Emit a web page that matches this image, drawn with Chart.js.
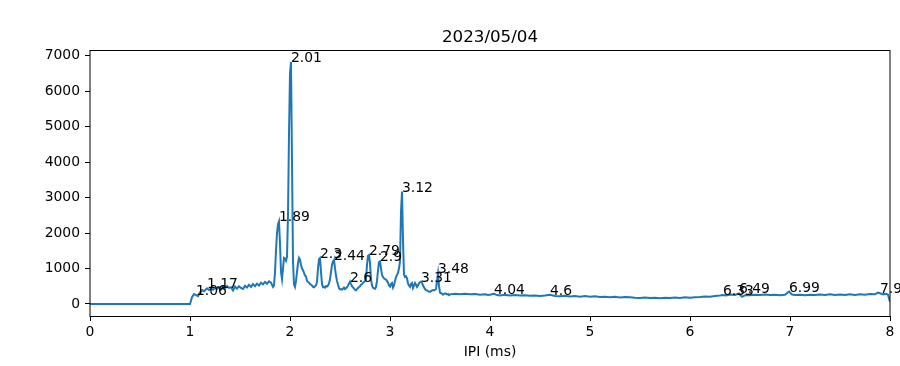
<!DOCTYPE html>
<html>
<head>
<meta charset="utf-8">
<script src="https://cdn.jsdelivr.net/npm/chart.js@4"></script>
<style>
  body { margin: 0; background: #fff; }
</style>
</head>
<body>
<canvas id="ipiChart" width="900" height="366"></canvas>
<script>
const chartTitle = "2023/05/04";
const xAxisLabel = "IPI (ms)";

// histogram bins (ms)
const ipiMs = [
  0, 1.00, 1.02, 1.04, 1.06, 1.08, 1.10, 1.12, 1.14, 1.17,
  1.19, 1.21, 1.23, 1.25, 1.27, 1.29, 1.31, 1.33, 1.35, 1.37,
  1.39, 1.41, 1.43, 1.45, 1.47, 1.49, 1.51, 1.53, 1.55, 1.57,
  1.59, 1.61, 1.63, 1.65, 1.67, 1.69, 1.71, 1.73, 1.75, 1.77,
  1.79, 1.81, 1.83,
  1.84, 1.85, 1.86, 1.87, 1.88, 1.89, 1.90, 1.91, 1.92, 1.93,
  1.94, 1.95, 1.96, 1.97, 1.98, 1.99, 2.00, 2.01, 2.02, 2.03,
  2.04, 2.05, 2.06, 2.07, 2.08, 2.09, 2.10, 2.11, 2.12, 2.13,
  2.14, 2.15, 2.16, 2.17, 2.18, 2.19, 2.20, 2.21, 2.22, 2.23,
  2.24, 2.25, 2.26, 2.27, 2.28, 2.29, 2.30, 2.31, 2.32, 2.33,
  2.34, 2.35, 2.36, 2.37, 2.38, 2.39, 2.40, 2.41, 2.42, 2.43,
  2.44, 2.45, 2.46, 2.47, 2.48, 2.49, 2.50, 2.51, 2.52, 2.53,
  2.54, 2.55, 2.56, 2.57, 2.58, 2.59, 2.60, 2.61, 2.62, 2.63,
  2.64, 2.65, 2.66, 2.67, 2.68, 2.69, 2.70, 2.71, 2.72, 2.73,
  2.74, 2.75, 2.76, 2.77, 2.78, 2.79, 2.80, 2.81, 2.82, 2.83,
  2.84, 2.85, 2.86, 2.87, 2.88, 2.89, 2.90, 2.91, 2.92, 2.93,
  2.94, 2.95, 2.96, 2.97, 2.98, 2.99, 3.00, 3.01, 3.02, 3.03,
  3.04, 3.05, 3.06, 3.07, 3.08, 3.09, 3.10, 3.11, 3.12, 3.13,
  3.14, 3.15, 3.16, 3.17, 3.18, 3.19, 3.20, 3.21, 3.22, 3.23,
  3.24, 3.25, 3.26, 3.27, 3.28, 3.29, 3.30, 3.31, 3.32, 3.33,
  3.34, 3.35, 3.36, 3.37, 3.38, 3.39, 3.40, 3.41, 3.42, 3.43,
  3.44, 3.45, 3.46, 3.47, 3.48, 3.49, 3.50, 3.51, 3.52, 3.53,
  3.54, 3.55, 3.56, 3.57, 3.58, 3.59, 3.60,
  3.65, 3.70, 3.75, 3.80, 3.85, 3.90, 3.95, 3.98, 4.01, 4.04,
  4.07, 4.10, 4.15, 4.20, 4.25, 4.30, 4.35, 4.40, 4.45, 4.50,
  4.55, 4.60, 4.65, 4.70, 4.75, 4.80, 4.85, 4.90, 4.95, 5.00,
  5.05, 5.10, 5.15, 5.20, 5.25, 5.30, 5.35, 5.40, 5.45, 5.50,
  5.55, 5.60, 5.65, 5.70, 5.75, 5.80, 5.85, 5.90, 5.95, 6.00,
  6.05, 6.10, 6.15, 6.20, 6.25, 6.30, 6.33, 6.36, 6.40, 6.45,
  6.49, 6.52, 6.56, 6.60, 6.65, 6.70, 6.75, 6.80, 6.85, 6.90,
  6.95, 6.99, 7.02, 7.05, 7.10, 7.15, 7.20, 7.25, 7.30, 7.35,
  7.40, 7.45, 7.50, 7.55, 7.60, 7.65, 7.70, 7.75, 7.80, 7.85,
  7.88, 7.90, 7.93, 7.96, 7.98, 8.00
];

const counts = [
  0, 0, 190, 280, 250, 220, 330, 390, 360, 440,
  390, 430, 400, 450, 420, 470, 410, 480, 440, 500,
  450, 470, 380, 490, 430, 500, 450, 420, 510, 460,
  540, 480, 560, 500, 570, 520, 600, 550, 620, 570,
  640, 600, 480,
  520, 900, 1500, 2000, 2250, 2330, 1700, 900, 700, 1000,
  1300, 1280, 1220, 1330, 2500, 4800, 6500, 6830, 4000, 1200,
  550, 480, 650, 900, 1150, 1300, 1250, 1100, 1000, 950,
  880, 800, 780, 650, 620, 600, 560, 540, 520, 480,
  470, 500, 520, 620, 1000, 1260, 1290, 900, 560, 470,
  480, 460, 500, 490, 520, 580, 700, 900, 1100, 1200,
  1240, 1000, 800, 650, 540, 450, 410, 420, 400, 430,
  460, 420, 440, 470, 520, 580, 630, 560, 500, 470,
  430, 400, 380, 420, 450, 480, 500, 540, 560, 600,
  620, 650, 700, 1100, 1360, 1380, 1150, 700, 520, 460,
  440, 430, 480, 650, 950, 1180, 1200, 1000, 820, 760,
  720, 700, 690, 650, 600, 520, 490, 560, 590, 460,
  520, 650, 760, 820, 880, 1000, 1200, 2600, 3170, 1800,
  830, 760, 780, 720, 580, 520, 480, 560, 590, 450,
  520, 590, 540, 480, 520, 580, 610, 630, 600, 520,
  470, 420, 390, 380, 360, 350, 340, 360, 380, 390,
  380, 400, 420, 650, 860, 500, 320, 300, 290, 260,
  280, 300, 290, 270, 280, 250, 270,
  290, 275, 285, 270, 280, 260, 275, 250, 265, 285,
  250, 235, 255, 240, 250, 235, 245, 230, 240, 225,
  235, 255, 225, 215, 230, 210, 225, 205, 220, 205,
  215, 195, 205, 185, 200, 180, 195, 190, 175, 165,
  180, 165, 175, 160, 175, 165, 180, 170, 185, 175,
  185, 195, 210, 205, 225, 235, 250, 240, 265, 255,
  295, 200, 255, 245, 260, 250, 265, 250, 260, 245,
  260, 350, 265, 250, 260, 245, 260, 250, 265, 250,
  270, 255, 265, 250, 270, 255, 275, 260, 280, 270,
  320, 300, 270, 285, 260, 60
];

// annotated peaks
const peakIpi = [1.06, 1.17, 1.89, 2.01, 2.3, 2.44, 2.6, 2.79, 2.9, 3.12, 3.31, 3.48, 4.04, 4.6, 6.33, 6.49, 6.99, 7.9];

const xTicks = [0, 1, 2, 3, 4, 5, 6, 7, 8];
const yTicks = [0, 1000, 2000, 3000, 4000, 5000, 6000, 7000];

const FONT = '"DejaVu Sans", sans-serif';

const mplDecor = {
  id: "mplDecor",
  afterDatasetsDraw(chart) {
    const { ctx, chartArea, scales } = chart;
    ctx.save();
    // frame (all four spines)
    ctx.strokeStyle = "#000";
    ctx.lineWidth = 1;
    ctx.strokeRect(chartArea.left, chartArea.top + 0.5, chartArea.right - chartArea.left, chartArea.bottom - chartArea.top);

    // peak labels
    ctx.fillStyle = "#000";
    ctx.font = "13.9px " + FONT;
    ctx.textAlign = "left";
    ctx.textBaseline = "alphabetic";
    peakIpi.forEach((v) => {
      const i = ipiMs.findIndex((t) => Math.abs(t - v) < 1e-6);
      ctx.fillText(String(v), scales.x.getPixelForValue(v), scales.y.getPixelForValue(counts[i]));
    });

    // title and x label
    const cx = (chartArea.left + chartArea.right) / 2;
    ctx.textAlign = "center";
    ctx.font = "16.7px " + FONT;
    ctx.fillText(chartTitle, cx, chartArea.top - 8.5);
    ctx.font = "13.9px " + FONT;
    ctx.textBaseline = "middle";
    ctx.fillText(xAxisLabel, cx, 352);
    ctx.restore();
  },
};

new Chart(document.getElementById("ipiChart").getContext("2d"), {
  type: "line",
  data: {
    datasets: [
      {
        data: ipiMs.map((x, i) => ({ x, y: counts[i] })),
        borderColor: "#1f77b4",
        borderWidth: 2,
        pointRadius: 0,
        tension: 0,
        fill: false,
      },
    ],
  },
  options: {
    responsive: false,
    animation: false,
    layout: { padding: { top: 50, right: 10, left: 0, bottom: 0 } },
    scales: {
      x: {
        type: "linear",
        min: 0,
        max: 8,
        afterBuildTicks: (s) => { s.ticks = xTicks.map((v) => ({ value: v })); },
        afterFit: (s) => { s.height = 50; },
        border: { display: false },
        grid: { drawOnChartArea: false, drawTicks: true, tickLength: 5, tickColor: "#000", tickWidth: 1 },
        ticks: { color: "#000", font: { family: FONT, size: 13.9 }, padding: 3, maxRotation: 0, callback: (v) => String(v) },
      },
      y: {
        type: "linear",
        min: -341,
        max: 7166,
        afterBuildTicks: (s) => { s.ticks = yTicks.map((v) => ({ value: v })); },
        afterFit: (s) => { s.width = 90; },
        border: { display: false },
        grid: { drawOnChartArea: false, drawTicks: true, tickLength: 5, tickColor: "#000", tickWidth: 1 },
        ticks: { color: "#000", font: { family: FONT, size: 13.9 }, padding: 5, callback: (v) => String(v) },
      },
    },
    plugins: {
      legend: { display: false },
      tooltip: { enabled: false },
      title: { display: false },
    },
  },
  plugins: [mplDecor],
});
</script>
</body>
</html>
